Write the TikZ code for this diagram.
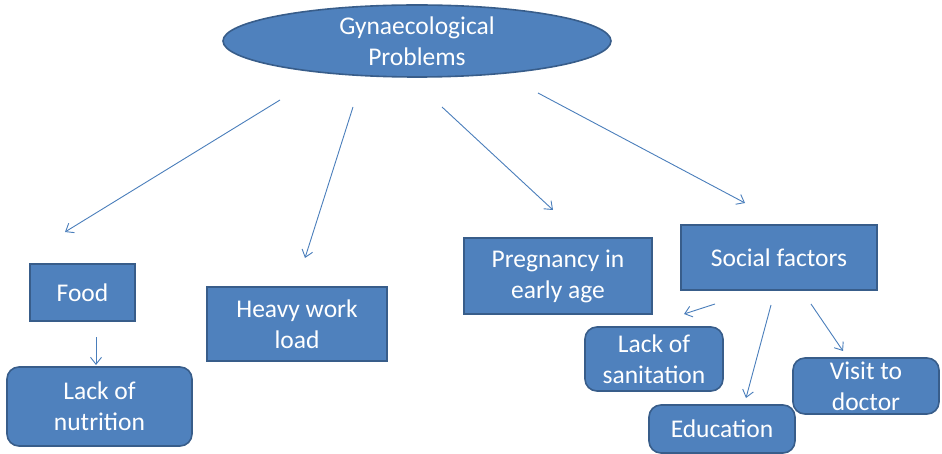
\documentclass[tikz,border=0pt]{standalone}
\usepackage{fontspec}
\setmainfont{Carlito}
\usetikzlibrary{shapes.geometric,arrows.meta}
\definecolor{boxfill}{HTML}{4F81BD}
\definecolor{boxline}{HTML}{385D8A}
\definecolor{arrowc}{HTML}{4A7EBB}
\tikzset{
  base/.style={fill=boxfill, draw=boxline, line width=1.6pt, text=white, align=center,
    font=\fontsize{25.5}{31}\selectfont, inner sep=0pt},
  sqbox/.style={base, rectangle},
  rbox/.style={base, rectangle, rounded corners=12pt},
  link/.style={draw=arrowc, line width=0.9pt, -{Straight Barb[length=7pt,width=11pt]}},
}
\begin{document}
\begin{tikzpicture}[x=1pt,y=-1pt]
\useasboundingbox (0,0) rectangle (942,454);
\node[base, ellipse, minimum width=388pt, minimum height=72pt] (gp) at (417,41) {Gynaecological\\Problems};
\node[sqbox, minimum width=105pt, minimum height=57pt] (food) at (82.5,292.5) {Food};
\node[rbox, minimum width=185pt, minimum height=79pt] (nut) at (99.5,406.5) {Lack of\\nutrition};
\node[sqbox, minimum width=180pt, minimum height=74pt] (heavy) at (297,324) {Heavy work\\load};
\node[sqbox, minimum width=188pt, minimum height=76pt] (preg) at (558,276) {Pregnancy in\\early age};
\node[sqbox, minimum width=196pt, minimum height=65pt] (soc) at (779,257.5) {Social factors};
\node[rbox, minimum width=138pt, minimum height=64pt] (san) at (654,359) {Lack of\\sanitation};
\node[rbox, minimum width=146pt, minimum height=56pt] (vis) at (866,386)
  {\raisebox{-9pt}[0pt][0pt]{\begin{tabular}{@{}c@{}}Visit to\\doctor\end{tabular}}};
\node[rbox, minimum width=146pt, minimum height=48pt] (edu) at (722,429) {Education};

\coordinate (s1) at (280,100); \coordinate (e1) at (65,232);
\coordinate (s2) at (353,107); \coordinate (e2) at (305,258);
\coordinate (s3) at (442,107); \coordinate (e3) at (553,210);
\coordinate (s4) at (538,93);  \coordinate (e4) at (745,203);
\coordinate (s5) at (96,337);  \coordinate (e5) at (96,365);
\coordinate (s6) at (715,304); \coordinate (e6) at (684,314);
\coordinate (s7) at (771,305); \coordinate (e7) at (746,398);
\coordinate (s8) at (811,304); \coordinate (e8) at (843,351);
\draw[link] (s1) -- (e1);
\draw[link] (s2) -- (e2);
\draw[link] (s3) -- (e3);
\draw[link] (s4) -- (e4);
\draw[link] (s5) -- (e5);
\draw[link] (s6) -- (e6);
\draw[link] (s7) -- (e7);
\draw[link] (s8) -- (e8);
\end{tikzpicture}
\end{document}
